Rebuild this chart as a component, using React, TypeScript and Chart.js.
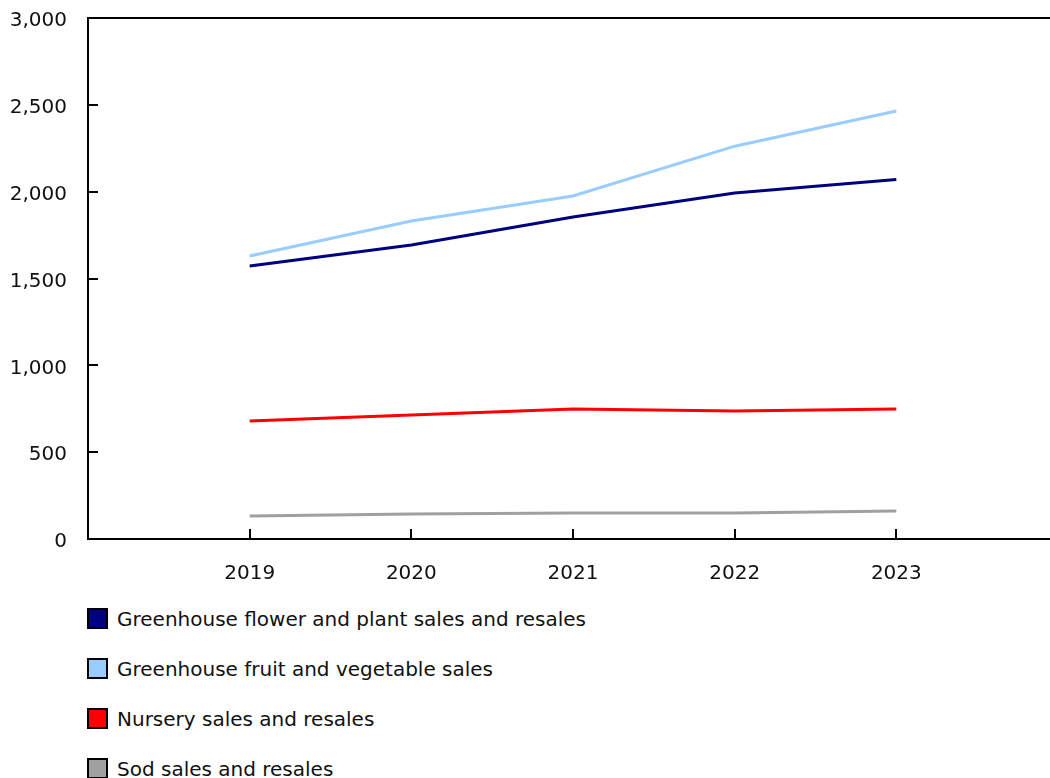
import React, { useEffect, useRef } from "react";
import { Chart, registerables } from "chart.js";

Chart.register(...registerables);

const years = [2019, 2020, 2021, 2022, 2023];
const yTicks = [0, 500, 1000, 1500, 2000, 2500, 3000];

const flowerPlant = [1572, 1693, 1854, 1992, 2070];
const fruitVeg = [1630, 1831, 1975, 2262, 2464];
const nursery = [679, 714, 749, 737, 749];
const sod = [132, 144, 150, 150, 161];

const seriesNames = [
  "Greenhouse flower and plant sales and resales",
  "Greenhouse fruit and vegetable sales",
  "Nursery sales and resales",
  "Sod sales and resales",
];
const seriesColors = ["#000080", "#99ccff", "#ff0000", "#a0a0a0"];
const seriesData = [flowerPlant, fruitVeg, nursery, sod];

const FONT = "'DejaVu Sans', Verdana, sans-serif";
const FSIZE = 20;

const innerTicks = {
  id: "innerTicks",
  afterDraw(chart: any) {
    const { ctx, chartArea } = chart;
    const xs = chart.scales.x;
    const ys = chart.scales.y;
    ctx.save();
    ctx.strokeStyle = "#000";
    ctx.lineWidth = 2;
    ctx.beginPath();
    ctx.moveTo(chartArea.left, chartArea.top);
    ctx.lineTo(chartArea.right, chartArea.top);
    ctx.stroke();
    for (const t of yTicks) {
      const y = Math.round(ys.getPixelForValue(t));
      ctx.beginPath();
      ctx.moveTo(chartArea.left, y);
      ctx.lineTo(chartArea.left + 10, y);
      ctx.stroke();
    }
    for (const yr of years) {
      const x = Math.round(xs.getPixelForValue(yr));
      ctx.beginPath();
      ctx.moveTo(x, chartArea.bottom);
      ctx.lineTo(x, chartArea.bottom - 10);
      ctx.stroke();
    }
    ctx.restore();
  },
};

export default function App() {
  const ref = useRef<HTMLCanvasElement>(null);
  useEffect(() => {
    if (!ref.current) return;
    const chart = new Chart(ref.current, {
      type: "line",
      data: {
        labels: years,
        datasets: seriesNames.map((name, i) => ({
          label: name,
          data: seriesData[i],
          borderColor: seriesColors[i],
          backgroundColor: seriesColors[i],
          borderWidth: 3,
          pointRadius: 0,
          tension: 0,
        })),
      },
      options: {
        responsive: false,
        animation: false,
        layout: { padding: { top: 10, right: 0, bottom: 0, left: 0 } },
        plugins: {
          legend: { display: false },
          tooltip: { enabled: false },
        },
        scales: {
          x: {
            type: "linear",
            min: 2018,
            max: 2024,
            grid: { display: false, drawTicks: false },
            border: { display: true, color: "#000", width: 2 },
            afterBuildTicks: (scale: any) => {
              scale.ticks = years.map((v) => ({ value: v }));
            },
            afterFit: (scale: any) => {
              scale.height = 59;
              scale.paddingLeft = 0;
              scale.paddingRight = 0;
            },
            ticks: {
              color: "#111",
              font: { family: FONT, size: FSIZE },
              padding: 23,
              maxRotation: 0,
              autoSkip: false,
              callback: (v: any) => String(v),
            },
          },
          y: {
            min: 0,
            max: 3000,
            grid: { display: false, drawTicks: false },
            border: { display: true, color: "#000", width: 2 },
            afterBuildTicks: (scale: any) => {
              scale.ticks = yTicks.map((v) => ({ value: v }));
            },
            afterFit: (scale: any) => {
              scale.width = 80;
              scale.paddingTop = 0;
              scale.paddingBottom = 0;
            },
            ticks: {
              color: "#111",
              font: { family: FONT, size: FSIZE },
              padding: 21,
              labelOffset: 3,
              callback: (v: any) => Number(v).toLocaleString("en-US"),
            },
          },
        },
      },
      plugins: [innerTicks],
    });
    return () => chart.destroy();
  }, []);

  return (
    <div
      style={{
        position: "fixed",
        left: 0,
        top: 0,
        width: 1050,
        height: 778,
        overflow: "hidden",
        background: "#fff",
      }}
    >
      <canvas
        ref={ref}
        width={1050}
        height={590}
        style={{ position: "absolute", left: 8, top: 8, width: 1050, height: 590 }}
      />
      <div style={{ position: "absolute", left: 87, top: 608 }}>
        {seriesNames.map((name, i) => (
          <div key={name} style={{ display: "flex", height: 50 }}>
            <div
              style={{
                width: 21,
                height: 21,
                boxSizing: "border-box",
                border: "2px solid #000",
                background: seriesColors[i],
              }}
            />
            <span
              style={{
                marginLeft: 9,
                fontFamily: FONT,
                fontSize: FSIZE,
                lineHeight: "22px",
                color: "#111",
                whiteSpace: "nowrap",
              }}
            >
              {name}
            </span>
          </div>
        ))}
      </div>
    </div>
  );
}
